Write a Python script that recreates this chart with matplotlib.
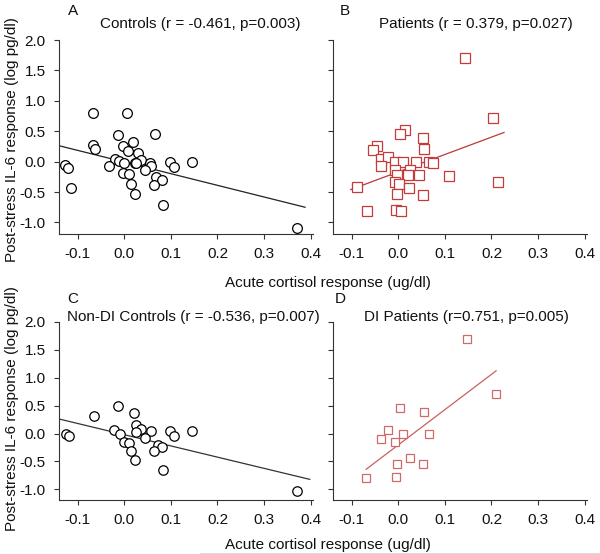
import matplotlib
matplotlib.use("Agg")
import matplotlib.pyplot as plt
from matplotlib.lines import Line2D

plt.rcParams['font.family'] = ['Liberation Sans', 'DejaVu Sans']

# ---------------- data ----------------
ctrl_x = [-0.068, 0.005, 0.067, -0.014, -0.066, -0.062, 0.019, -0.002, 0.009, 0.029,
          0.035, -0.019, -0.011, 0.000, 0.022, -0.032, 0.056, 0.057, 0.099, 0.106,
          0.146, 0.044, -0.002, 0.011, 0.069, 0.081, 0.064, 0.015, 0.022, 0.084,
          0.370, -0.127, -0.120, -0.114, 0.026]
ctrl_y = [0.80, 0.80, 0.46, 0.43, 0.27, 0.21, 0.32, 0.25, 0.17, 0.14,
          0.03, 0.04, 0.005, -0.02, -0.02, -0.07, -0.02, -0.08, -0.01, -0.09,
          0.00, -0.14, -0.19, -0.20, -0.26, -0.30, -0.38, -0.36, -0.53, -0.72,
          -1.09, -0.05, -0.10, -0.44, -0.02]
ctrl_fit_x = [-0.139, 0.388]
ctrl_fit_y = [0.26, -0.75]

pat_x = [0.143, 0.204, 0.215, 0.108, 0.014, 0.003, 0.054, 0.056, -0.045, -0.054,
         -0.036, -0.021, -0.038, -0.006, 0.010, 0.039, 0.065, 0.074, -0.006, 0.025,
         0.021, 0.044, -0.003, -0.006, 0.002, 0.024, -0.002, 0.053, -0.089, -0.068,
         -0.004, 0.006]
pat_y = [1.71, 0.72, -0.33, -0.23, 0.52, 0.46, 0.39, 0.20, 0.26, 0.19,
         0.04, 0.08, -0.08, -0.01, -0.01, 0.00, -0.01, -0.02, -0.14, -0.14,
         -0.22, -0.22, -0.22, -0.33, -0.37, -0.44, -0.54, -0.55, -0.41, -0.81,
         -0.79, -0.81]
pat_fit_x = [-0.102, 0.227]
pat_fit_y = [-0.46, 0.48]

ndc_x = [-0.014, -0.065, 0.021, 0.025, -0.021, -0.009, 0.036, 0.026, 0.057, 0.099,
         0.106, 0.146, 0.044, -0.001, 0.011, 0.072, 0.082, 0.064, 0.015, 0.024,
         0.084, 0.371, -0.126, -0.118]
ndc_y = [0.49, 0.32, 0.375, 0.16, 0.066, 0.00, 0.08, 0.02, 0.05, 0.04,
         -0.04, 0.05, -0.08, -0.15, -0.16, -0.20, -0.24, -0.32, -0.32, -0.48,
         -0.66, -1.02, 0.00, -0.05]
ndc_fit_x = [-0.139, 0.398]
ndc_fit_y = [0.26, -0.82]

dip_x = [0.147, 0.210, 0.003, 0.056, -0.021, -0.038, -0.007, 0.011, 0.067, 0.025,
         -0.002, 0.054, -0.004, -0.069]
dip_y = [1.70, 0.71, 0.45, 0.39, 0.07, -0.09, -0.15, -0.01, 0.00, -0.44,
         -0.54, -0.54, -0.78, -0.80]
dip_fit_x = [-0.069, 0.210]
dip_fit_y = [-0.64, 1.125]

x_ticks = [-0.1, 0.0, 0.1, 0.2, 0.3, 0.4]
y_ticks = [-1.0, -0.5, 0.0, 0.5, 1.0, 1.5, 2.0]

titles = ["Controls (r = -0.461, p=0.003)", "Patients (r = 0.379, p=0.027)",
          "Non-DI Controls (r = -0.536, p=0.007)", "DI Patients (r=0.751, p=0.005)"]
letters = ["A", "B", "C", "D"]
ylabel = "Post-stress IL-6 response (log pg/dl)"
xlabel = "Acute cortisol response (ug/dl)"

# ---------------- figure ----------------
W, H = 600, 554
FS = 11
fig = plt.figure(figsize=(W / 100, H / 100), dpi=100)

def px_rect(x0, y0, x1, y1):
    return [x0 / W, 1 - y1 / H, (x1 - x0) / W, (y1 - y0) / H]

axA = fig.add_axes(px_rect(59, 40, 313, 234))
axB = fig.add_axes(px_rect(333, 40, 587, 234))
axC = fig.add_axes(px_rect(59, 322, 313, 500))
axD = fig.add_axes(px_rect(333, 322, 587, 500))

red_b = '#c53a3a'
red_d = '#cf6a6a'

specs = [
    (axA, ctrl_x, ctrl_y, ctrl_fit_x, ctrl_fit_y, 'o', 'black', '#222222', 7.0, True),
    (axB, pat_x, pat_y, pat_fit_x, pat_fit_y, 's', red_b, '#b83a3a', 6.5, False),
    (axC, ndc_x, ndc_y, ndc_fit_x, ndc_fit_y, 'o', 'black', '#333333', 6.8, True),
    (axD, dip_x, dip_y, dip_fit_x, dip_fit_y, 's', red_d, '#c86060', 6.0, False),
]

for ax, xs, ys, fx, fy, mk, mc, lc, ms, show_y in specs:
    ax.plot(fx, fy, color=lc, lw=0.9, zorder=2)
    ax.plot(xs, ys, ls='none', marker=mk, ms=ms, mfc='white', mec=mc, mew=0.9, zorder=3)
    ax.set_xlim(-0.14, 0.405)
    ax.set_ylim(-1.19, 2.0)
    ax.set_xticks(x_ticks)
    ax.set_xticklabels([f"{v:.1f}" for v in x_ticks])
    ax.set_yticks(y_ticks)
    if show_y:
        ax.set_yticklabels([f"{v:.1f}" for v in y_ticks])
    else:
        ax.set_yticklabels([])
    for s in ['top', 'right']:
        ax.spines[s].set_visible(False)
    for s in ['left', 'bottom']:
        ax.spines[s].set_linewidth(0.8)
        ax.spines[s].set_color('#333333')
    ax.tick_params(direction='out', length=3.5, width=0.8, color='#333333',
                   labelsize=FS, pad=6, labelcolor='#111111')

# panel letters and titles (pixel positions)
def ftext(x, y, s, **kw):
    fig.text(x / W, 1 - y / H, s, fontsize=FS, color='#111111', va='center', **kw)

ftext(68, 11, letters[0], ha='left')
ftext(200, 24, titles[0], ha='center')
ftext(340, 11, letters[1], ha='left')
ftext(476, 24, titles[1], ha='center')
ftext(67, 299, letters[2], ha='left')
ftext(67, 317, titles[2], ha='left')
ftext(335, 299, letters[3], ha='left')
ftext(466, 317, titles[3], ha='center')

# axis labels
ftext(328, 283, xlabel, ha='center')
ftext(328, 545, xlabel, ha='center')
fig.text(12 / W, 1 - 140 / H, ylabel, rotation=90, fontsize=FS, color='#111111',
         ha='center', va='center')
fig.text(12 / W, 1 - 409 / H, ylabel, rotation=90, fontsize=FS, color='#111111',
         ha='center', va='center')

fig.add_artist(Line2D([200 / W, 1.0], [1 - 553 / H, 1 - 553 / H], color='#dddddd',
                      lw=0.8, transform=fig.transFigure))

fig.savefig("out.png", dpi=100)
